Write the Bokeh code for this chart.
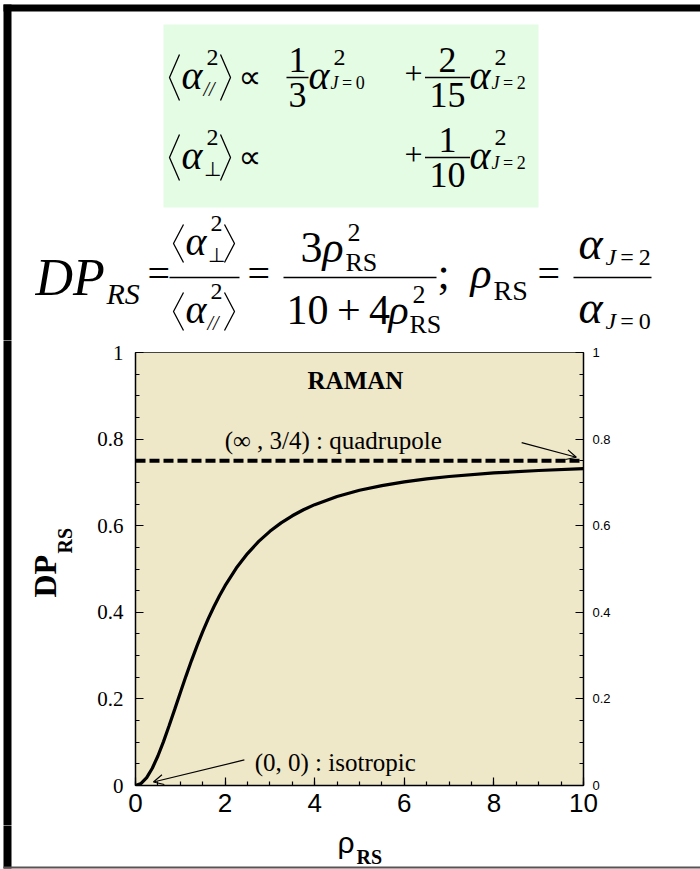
import numpy as np
from bokeh.plotting import figure
from bokeh.layouts import column, row
from bokeh.models import (Range1d, LinearAxis, FixedTicker, Label, Arrow, OpenHead,
                          PrintfTickFormatter)
from bokeh.core.properties import value
from bokeh.embed import file_html
from bokeh.resources import INLINE

# Depolarization ratio of the Raman line versus rho_RS
rho = [0, 0.125, 0.25, 0.375, 0.5, 0.625, 0.75, 0.875, 1.0, 1.125, 1.25, 1.375,
       1.5, 1.625, 1.75, 1.875, 2.0, 2.25, 2.5, 2.75, 3.0, 3.25, 3.5, 3.75, 4.0,
       4.5, 5.0, 5.5, 6.0, 6.5, 7.0, 8.0, 9.0, 10.0]
dp = [0, 0.0047, 0.0183, 0.0399, 0.0682, 0.1014, 0.1378, 0.1758, 0.2143, 0.2521,
      0.2885, 0.3230, 0.3553, 0.3853, 0.4129, 0.4383, 0.4615, 0.5021, 0.5357,
      0.5637, 0.5870, 0.6065, 0.6229, 0.6368, 0.6486, 0.6676, 0.6818, 0.6927,
      0.7013, 0.7081, 0.7136, 0.7218, 0.7275, 0.7317]
dp_limit = 0.75

x_ticks = [0, 2, 4, 6, 8, 10]
x_tick_labels = ["0", "2", "4", "6", "8", "10"]
y_ticks = [0, 0.2, 0.4, 0.6, 0.8, 1.0]
y_tick_labels = ["0", "0.2", "0.4", "0.6", "0.8", "1"]
x_minor = [round(v, 2) for v in np.arange(0, 10.01, 0.5)]
y_minor = [round(v, 3) for v in np.arange(0, 1.001, 0.05)]

SERIF = "Liberation Serif"
SANS = "Liberation Sans"
TAN = "#EEE7C8"
GREEN = "#E4FBE4"


def panel(w, h):
    """A bare drawing surface whose data units are pixels, y pointing down."""
    f = figure(width=w, height=h, output_backend="svg", toolbar_location=None,
               x_range=Range1d(0, w), y_range=Range1d(h, 0),
               x_axis_location=None, y_axis_location=None, min_border=0)
    f.frame_align = False
    f.outline_line_color = None
    f.background_fill_color = "white"
    f.border_fill_color = "white"
    f.xgrid.visible = False
    f.ygrid.visible = False
    return f


def txt(f, x, y, s, size, font=SERIF, style="normal", align="left", angle=0):
    """Text whose vertical middle sits at y."""
    f.text(x=[x], y=[y], text=[s], text_font=value(font), text_font_size=f"{size}px",
           text_font_style=style, text_align=align, text_baseline="middle",
           angle=angle, text_color="black")


def box(f, l, r, t, b, color):
    f.quad(left=[l], right=[r], top=[t], bottom=[b], fill_color=color, line_color=None)


def lbracket(f, xt, ym, hh, w=10):
    f.line([xt + w, xt, xt + w], [ym - hh, ym, ym + hh], line_color="black", line_width=1.3)


def rbracket(f, xt, ym, hh, w=10):
    f.line([xt - w, xt, xt - w], [ym - hh, ym, ym + hh], line_color="black", line_width=1.3)


def bar(f, x0, x1, y):
    f.line([x0, x1], [y, y], line_color="black", line_width=1.5)


def mean_sq(f, x0, yc, sub, sub_style, hh=23):
    lbracket(f, x0, yc, hh)
    txt(f, x0 + 12, yc - 2, "\u03b1", 40, style="italic")
    txt(f, x0 + 37, yc - 20, "2", 24)
    txt(f, x0 + 34, yc + 11, sub, 20, style=sub_style)
    rbracket(f, x0 + 61, yc, hh)


def alpha_j(f, x0, yc, j):
    txt(f, x0, yc - 2, "\u03b1", 40, style="italic")
    txt(f, x0 + 25, yc - 20, "2", 24)
    txt(f, x0 + 22, yc + 5, "J", 18, style="italic")
    txt(f, x0 + 30, yc + 5, "\u2009=\u2009" + j, 18)


def frac(f, cx, yc, num, den, w, size=36):
    txt(f, cx, yc - 17.5, num, size, align="center")
    txt(f, cx, yc + 17.5, den, size, align="center")
    bar(f, cx - w / 2, cx + w / 2, yc)


# ---------------- formulas (top band of the page) ----------------
TOP_H = 340
top = panel(700, TOP_H)
box(top, 3, 701, 4, 11, "black")
box(top, 3, 11, 4, TOP_H + 2, "black")
box(top, 163, 538, 24, 207, GREEN)

y1, y2 = 77, 157
mean_sq(top, 169, y1, "//", "italic")
txt(top, 238, y1 - 1, "\u221d", 32, font="DejaVu Sans")
frac(top, 297, y1, "1", "3", 22)
alpha_j(top, 308, y1, "0")
txt(top, 404, y1 - 4, "+", 32)
frac(top, 447, y1, "2", "15", 45)
alpha_j(top, 469, y1, "2")

mean_sq(top, 169, y2, "\u22a5", "normal")
txt(top, 238, y2 - 1, "\u221d", 32, font="DejaVu Sans")
txt(top, 404, y2 - 3, "+", 32)
frac(top, 447, y2, "1", "10", 45)
alpha_j(top, 469, y2, "2")

y3 = 277
txt(top, 35, y3, "DP", 52, style="italic")
txt(top, 106, y3 + 16, "RS", 30, style="italic")
txt(top, 147, y3 - 4, "=", 40)
mean_sq(top, 173, y3 - 34, "\u22a5", "normal", hh=19)
mean_sq(top, 173, y3 + 34, "//", "italic", hh=19)
bar(top, 169, 239, y3)
txt(top, 247, y3 - 4, "=", 40)
txt(top, 300, y3 - 30, "3", 44)
txt(top, 322, y3 - 30, "\u03c1", 44, style="italic")
txt(top, 347, y3 - 45, "2", 26)
txt(top, 345, y3 - 15, "RS", 26)
txt(top, 286, y3 + 32, "10\u2009+\u20094", 42)
txt(top, 388, y3 + 32, "\u03c1", 42, style="italic")
txt(top, 412, y3 + 17, "2", 26)
txt(top, 409, y3 + 47, "RS", 26)
bar(top, 283, 436, y3)
txt(top, 437, y3 - 4, ";", 44)
txt(top, 470, y3 - 4, "\u03c1", 44, style="italic")
txt(top, 493, y3 + 13, "RS", 28)
txt(top, 537, y3 - 4, "=", 40)
txt(top, 578, y3 - 34, "\u03b1", 46, style="italic")
txt(top, 605, y3 - 21, "J", 24, style="italic")
txt(top, 615, y3 - 21, "\u2009=\u20092", 24)
txt(top, 578, y3 + 30, "\u03b1", 46, style="italic")
txt(top, 605, y3 + 43, "J", 24, style="italic")
txt(top, 615, y3 + 43, "\u2009=\u20090", 24)
bar(top, 573, 651, y3)

# ---------------- left strip with the y title ----------------
CH = 485          # height of the chart row
side = panel(94, CH)
box(side, 3, 11, -2, CH + 2, "black")
txt(side, 44, 597 - TOP_H, "DP", 32, style="bold", angle=np.pi / 2)
txt(side, 64, 553 - TOP_H, "RS", 20, style="bold", angle=np.pi / 2)

# ---------------- the chart ----------------
p = figure(width=606, height=CH, output_backend="svg", toolbar_location=None,
           x_range=Range1d(0, 10), y_range=Range1d(0, 1),
           min_border_left=40, min_border_right=117,
           min_border_top=12, min_border_bottom=40)
p.frame_align = False
p.background_fill_color = TAN
p.border_fill_color = "white"
p.outline_line_color = "#444444"
p.outline_line_width = 1
p.xgrid.visible = False
p.ygrid.visible = False


def style_axis(ax, ticks, minor, labels, font, size, standoff):
    ax.ticker = FixedTicker(ticks=ticks, minor_ticks=minor)
    ax.formatter = PrintfTickFormatter(format="%g")
    ax.major_label_overrides = dict(zip(ticks, labels))
    ax.major_tick_in = 8
    ax.major_tick_out = 0
    ax.minor_tick_in = 4
    ax.minor_tick_out = 0
    ax.major_tick_line_width = 1.2
    ax.minor_tick_line_width = 1.2
    ax.axis_line_width = 1.5
    ax.major_label_text_font = font
    ax.major_label_text_font_size = size
    ax.major_label_text_color = "black"
    ax.major_label_standoff = standoff


style_axis(p.xaxis[0], x_ticks, x_minor, x_tick_labels, SANS, "26px", 8)
style_axis(p.yaxis[0], y_ticks, y_minor, y_tick_labels, SERIF, "21px", 12)
right = LinearAxis()
style_axis(right, y_ticks, y_minor, y_tick_labels, SANS, "13px", 9)
p.add_layout(right, "right")

p.line(rho, dp, line_color="black", line_width=3.2)
p.line([x_ticks[0], x_ticks[-1]], [dp_limit, dp_limit], line_color="black",
       line_width=4, line_dash="10 4")

p.add_layout(Label(x=4.91, y=0.936, text="RAMAN", text_font=SERIF,
                   text_font_style="bold", text_font_size="25px", text_color="black",
                   text_align="center", text_baseline="middle"))
p.add_layout(Label(x=1.99, y=0.797, text="(\u221e , 3/4) : quadrupole",
                   text_font=SERIF, text_font_size="25px", text_color="black",
                   text_align="left", text_baseline="middle"))
p.add_layout(Label(x=2.66, y=0.054, text="(0, 0) : isotropic",
                   text_font=SERIF, text_font_size="25px", text_color="black",
                   text_align="left", text_baseline="middle"))
p.add_layout(Arrow(x_start=8.62, y_start=0.792, x_end=9.84, y_end=0.758,
                   line_width=1.2, end=OpenHead(size=10, line_width=1.2)))
p.add_layout(Arrow(x_start=2.43, y_start=0.059, x_end=0.40, y_end=0.008,
                   line_width=1.2, end=OpenHead(size=10, line_width=1.2)))

# ---------------- bottom strip with the x title ----------------
BOT_Y = TOP_H + CH
bottom = panel(700, 869 - BOT_Y)
box(bottom, 3, 11, -2, 868 - BOT_Y, "black")
box(bottom, 3, 701, 866 - BOT_Y, 868 - BOT_Y, "#555555")
txt(bottom, 337, 842 - BOT_Y, "\u03c1", 30, font=SANS)
txt(bottom, 356, 856 - BOT_Y, "RS", 20, style="bold")

page = column(top, row(side, p), bottom)
open("out.html", "w").write(file_html(page, INLINE))
